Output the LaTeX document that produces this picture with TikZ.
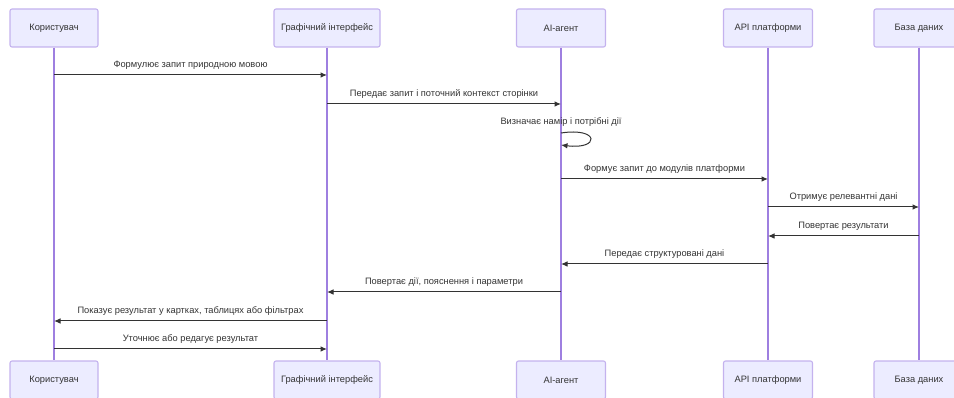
\documentclass[tikz,border=0pt]{standalone}
\usepackage{fontspec}
\setmainfont{Liberation Sans}
\usetikzlibrary{arrows.meta}
\definecolor{actfill}{HTML}{ECECFF}
\definecolor{actdraw}{HTML}{C4B2EE}
\definecolor{life}{HTML}{9E7FE0}
\definecolor{msgc}{HTML}{333333}
\begin{document}
\begin{tikzpicture}[x=1pt,y=-1pt,
  actor/.style={draw=actdraw,fill=actfill,line width=1.1pt,rounded corners=2pt,minimum height=38pt,inner sep=0pt,font=\fontsize{9.3}{11}\selectfont,text=msgc},
  lifeline/.style={draw=life,line width=1.1pt},
  msg/.style={draw=msgc,line width=1pt,-{Latex[length=6.5pt,width=5.5pt]}},
  lbl/.style={font=\fontsize{9.3}{11}\selectfont,text=msgc,inner sep=0pt}]
\useasboundingbox (0,0) rectangle (954,398);
\begin{scope}
\clip (0,0) rectangle (954,398);
% top actors
\node[actor,minimum width=88pt] (u1) at (54,28) {Користувач};
\node[actor,minimum width=106pt] (g1) at (327,28) {Графічний інтерфейс};
\node[actor,minimum width=89pt] (a1) at (561,28) {AI-агент};
\node[actor,minimum width=89pt] (p1) at (768,28) {API платформи};
\node[actor,minimum width=90pt] (d1) at (919,28) {База даних};
% bottom actors
\node[actor,minimum width=88pt] (u2) at (54,380) {Користувач};
\node[actor,minimum width=106pt] (g2) at (327,380) {Графічний інтерфейс};
\node[actor,minimum width=89pt] (a2) at (561,380) {AI-агент};
\node[actor,minimum width=89pt] (p2) at (768,380) {API платформи};
\node[actor,minimum width=90pt] (d2) at (919,380) {База даних};
\end{scope}
% lifelines
\draw[lifeline] (u1.south) -- (u2.north);
\draw[lifeline] (g1.south) -- (g2.north);
\draw[lifeline] (a1.south) -- (a2.north);
\draw[lifeline] (p1.south) -- (p2.north);
\draw[lifeline] (d1.south) -- (d2.north);
% messages
\coordinate (m1s) at (54,75); \coordinate (m1e) at (327,75);
\draw[msg] (m1s) -- (m1e) node[lbl,midway,above=5pt] {Формулює запит природною мовою};
\coordinate (m2s) at (327,104); \coordinate (m2e) at (561,104);
\draw[msg] (m2s) -- (m2e) node[lbl,midway,above=5pt] {Передає запит і поточний контекст сторінки};
\node[lbl] (t3) at (561,122) {Визначає намір і потрібні дії};
\coordinate (m3s) at (561,133); \coordinate (m3e) at (561,145);
\draw[msg] (m3s) .. controls (600,127) and (600,150) .. (m3e);
\coordinate (m4s) at (561,179); \coordinate (m4e) at (768,179);
\draw[msg] (m4s) -- (m4e) node[lbl,midway,above=5pt] {Формує запит до модулів платформи};
\coordinate (m5s) at (768,207); \coordinate (m5e) at (919,207);
\draw[msg] (m5s) -- (m5e) node[lbl,midway,above=5pt] {Отримує релевантні дані};
\coordinate (m6s) at (919,236); \coordinate (m6e) at (768,236);
\draw[msg] (m6s) -- (m6e) node[lbl,midway,above=5pt] {Повертає результати};
\coordinate (m7s) at (768,264); \coordinate (m7e) at (561,264);
\draw[msg] (m7s) -- (m7e) node[lbl,midway,above=5pt] {Передає структуровані дані};
\coordinate (m8s) at (561,292); \coordinate (m8e) at (327,292);
\draw[msg] (m8s) -- (m8e) node[lbl,midway,above=5pt] {Повертає дії, пояснення і параметри};
\coordinate (m9s) at (327,321); \coordinate (m9e) at (54,321);
\draw[msg] (m9s) -- (m9e) node[lbl,midway,above=5pt] {Показує результат у картках, таблицях або фільтрах};
\coordinate (m10s) at (54,349); \coordinate (m10e) at (327,349);
\draw[msg] (m10s) -- (m10e) node[lbl,midway,above=5pt] {Уточнює або редагує результат};
\end{tikzpicture}
\end{document}
